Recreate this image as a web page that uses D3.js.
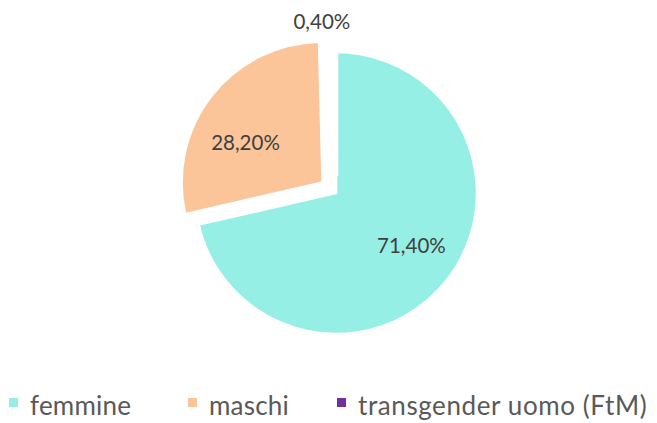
<!DOCTYPE html>
<html>
<head>
<meta charset="utf-8">
<script src="https://cdn.jsdelivr.net/npm/d3@7"></script>
<style>
  body { margin: 0; background: #fff; }
</style>
</head>
<body>
<script>
var categories = ['femmine', 'maschi', 'transgender uomo (FtM)'];
var values = [71.4, 28.2, 0.4];
var labels = ['71,40%', '28,20%', '0,40%'];
var colors = ['#95efe4', '#fbc599', '#7030a0'];
var explode = [0, 17, 17];

var width = 657;
var height = 423;
var radius = 141;
var cx = 336;
var cy = 193;

var svg = d3.select('body')
    .append('svg')
    .attr('width', width)
    .attr('height', height);

var pie = d3.pie().sort(null).value(function (d) { return d; });
var arcs = pie(values);

var arc = d3.arc().innerRadius(0).outerRadius(radius);
var labelArc = d3.arc().innerRadius(radius * 0.62).outerRadius(radius * 0.62);
var outerArc = d3.arc().innerRadius(radius + 13).outerRadius(radius + 13);

var g = svg.append('g').attr('transform', 'translate(' + cx + ',' + cy + ')');

function shift(d, i) {
    var mid = (d.startAngle + d.endAngle) / 2;
    return [Math.sin(mid) * explode[i], -Math.cos(mid) * explode[i]];
}

var slice = g.selectAll('g.slice')
    .data(arcs)
    .enter()
    .append('g')
    .attr('class', 'slice')
    .attr('transform', function (d, i) {
        var s = shift(d, i);
        return 'translate(' + s[0] + ',' + s[1] + ')';
    });

// the tiny slice is swallowed by its white border, as in the original
slice.append('path')
    .attr('d', arc)
    .attr('fill', function (d, i) { return colors[i]; })
    .attr('stroke', '#fff')
    .attr('stroke-width', function (d, i) { return values[i] < 2 ? 5 : 2.5; });

slice.append('text')
    .attr('transform', function (d, i) {
        var p = values[i] < 2 ? outerArc.centroid(d) : labelArc.centroid(d);
        if (values[i] < 2) p[0] -= 12;
        if (i == 0) { p[0] += 7; p[1] -= 2; }
        if (i == 1) { p[0] -= 8; p[1] += 14; }
        return 'translate(' + p[0] + ',' + p[1] + ')';
    })
    .attr('dy', '0.35em')
    .attr('text-anchor', 'middle')
    .attr('font-family', 'Lato, sans-serif')
    .attr('font-size', 20.5)
    .attr('fill', '#404040')
    .text(function (d, i) { return labels[i]; });

var legendX = [9, 188, 337];
var legend = svg.selectAll('g.legend')
    .data(categories)
    .enter()
    .append('g')
    .attr('class', 'legend')
    .attr('transform', function (d, i) { return 'translate(' + legendX[i] + ',398)'; });

legend.append('rect')
    .attr('width', 9)
    .attr('height', 9)
    .attr('fill', function (d, i) { return colors[i]; });

legend.append('text')
    .attr('x', 21)
    .attr('y', 17)
    .attr('font-family', 'Lato, sans-serif')
    .attr('font-size', 26)
    .attr('letter-spacing', function (d, i) { return i == 2 ? 0.6 : 0.2; })
    .attr('fill', '#595959')
    .text(function (d) { return d; });
</script>
</body>
</html>
